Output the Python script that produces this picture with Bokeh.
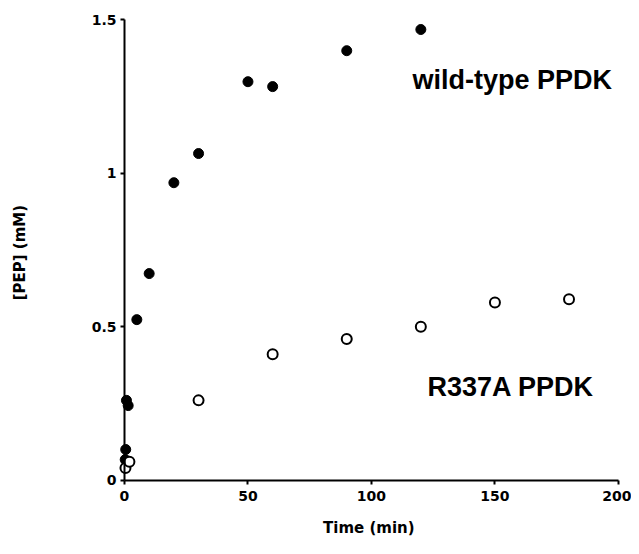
from bokeh.plotting import figure
from bokeh.models import Range1d, Label, FixedTicker
from bokeh.embed import file_html
from bokeh.resources import INLINE

# Wild-type PPDK (filled circles)
wt_time = [0.3, 0.5, 0.8, 1.5, 5, 10, 20, 30, 50, 60, 90, 120]
wt_pep = [0.067, 0.10, 0.26, 0.243, 0.523, 0.673, 0.969, 1.064, 1.298, 1.282, 1.399, 1.468]

# R337A PPDK (open circles)
mut_time = [0.4, 2, 30, 60, 90, 120, 150, 180]
mut_pep = [0.04, 0.06, 0.26, 0.41, 0.46, 0.50, 0.579, 0.589]

x_ticks = [0, 50, 100, 150, 200]
y_ticks = [0, 0.5, 1, 1.5]
y_tick_labels = ["0", "0.5", "1", "1.5"]

FONT = "Liberation Sans"
AXFONT = "DejaVu Sans"

p = figure(width=631, height=546,
           x_range=Range1d(-50.2, 205.3), y_range=Range1d(-0.216, 1.5625),
           output_backend="svg", toolbar_location=None,
           min_border=0, min_border_left=0, min_border_right=0,
           min_border_top=0, min_border_bottom=0)
p.outline_line_color = None
p.grid.visible = False
p.background_fill_color = "white"

for ax in (p.xaxis[0], p.yaxis[0]):
    ax.axis_line_width = 2
    ax.axis_line_color = "black"
    ax.major_tick_line_width = 2
    ax.major_tick_line_color = "black"
    ax.major_tick_in = 0
    ax.major_tick_out = 4
    ax.minor_tick_line_color = None
    ax.major_label_text_font = AXFONT
    ax.major_label_text_font_style = "bold"
    ax.major_label_text_font_size = "14px"
    ax.major_label_text_color = "black"
    ax.axis_label_text_font = AXFONT
    ax.axis_label_text_font_style = "bold"
    ax.axis_label_text_font_size = "15px"
    ax.axis_label_text_color = "black"

xa = p.xaxis[0]
xa.ticker = FixedTicker(ticks=x_ticks)
xa.bounds = (0, 200)
xa.fixed_location = 0
xa.major_label_standoff = 7
xa.axis_label = "Time  (min)"
xa.axis_label_standoff = 14

ya = p.yaxis[0]
ya.ticker = FixedTicker(ticks=y_ticks)
ya.major_label_overrides = {t: s for t, s in zip(y_ticks, y_tick_labels)}
ya.bounds = (0, 1.5)
ya.fixed_location = 0
ya.major_label_standoff = 4
ya.axis_label = "[PEP]  (mM)"
ya.axis_label_standoff = 60

p.scatter(wt_time, wt_pep, marker="circle", size=10,
          fill_color="black", line_color="black")
p.scatter(mut_time, mut_pep, marker="circle", size=10,
          fill_color="white", line_color="black", line_width=2)

p.add_layout(Label(x=116.6, y=1.305, text="wild-type PPDK",
                   text_font=FONT, text_font_style="bold",
                   text_font_size="27px", text_color="black",
                   text_baseline="alphabetic"))
p.add_layout(Label(x=122.7, y=0.305, text="R337A PPDK",
                   text_font=FONT, text_font_style="bold",
                   text_font_size="27px", text_color="black",
                   text_baseline="alphabetic"))

open("out.html", "w").write(file_html(p, INLINE))
